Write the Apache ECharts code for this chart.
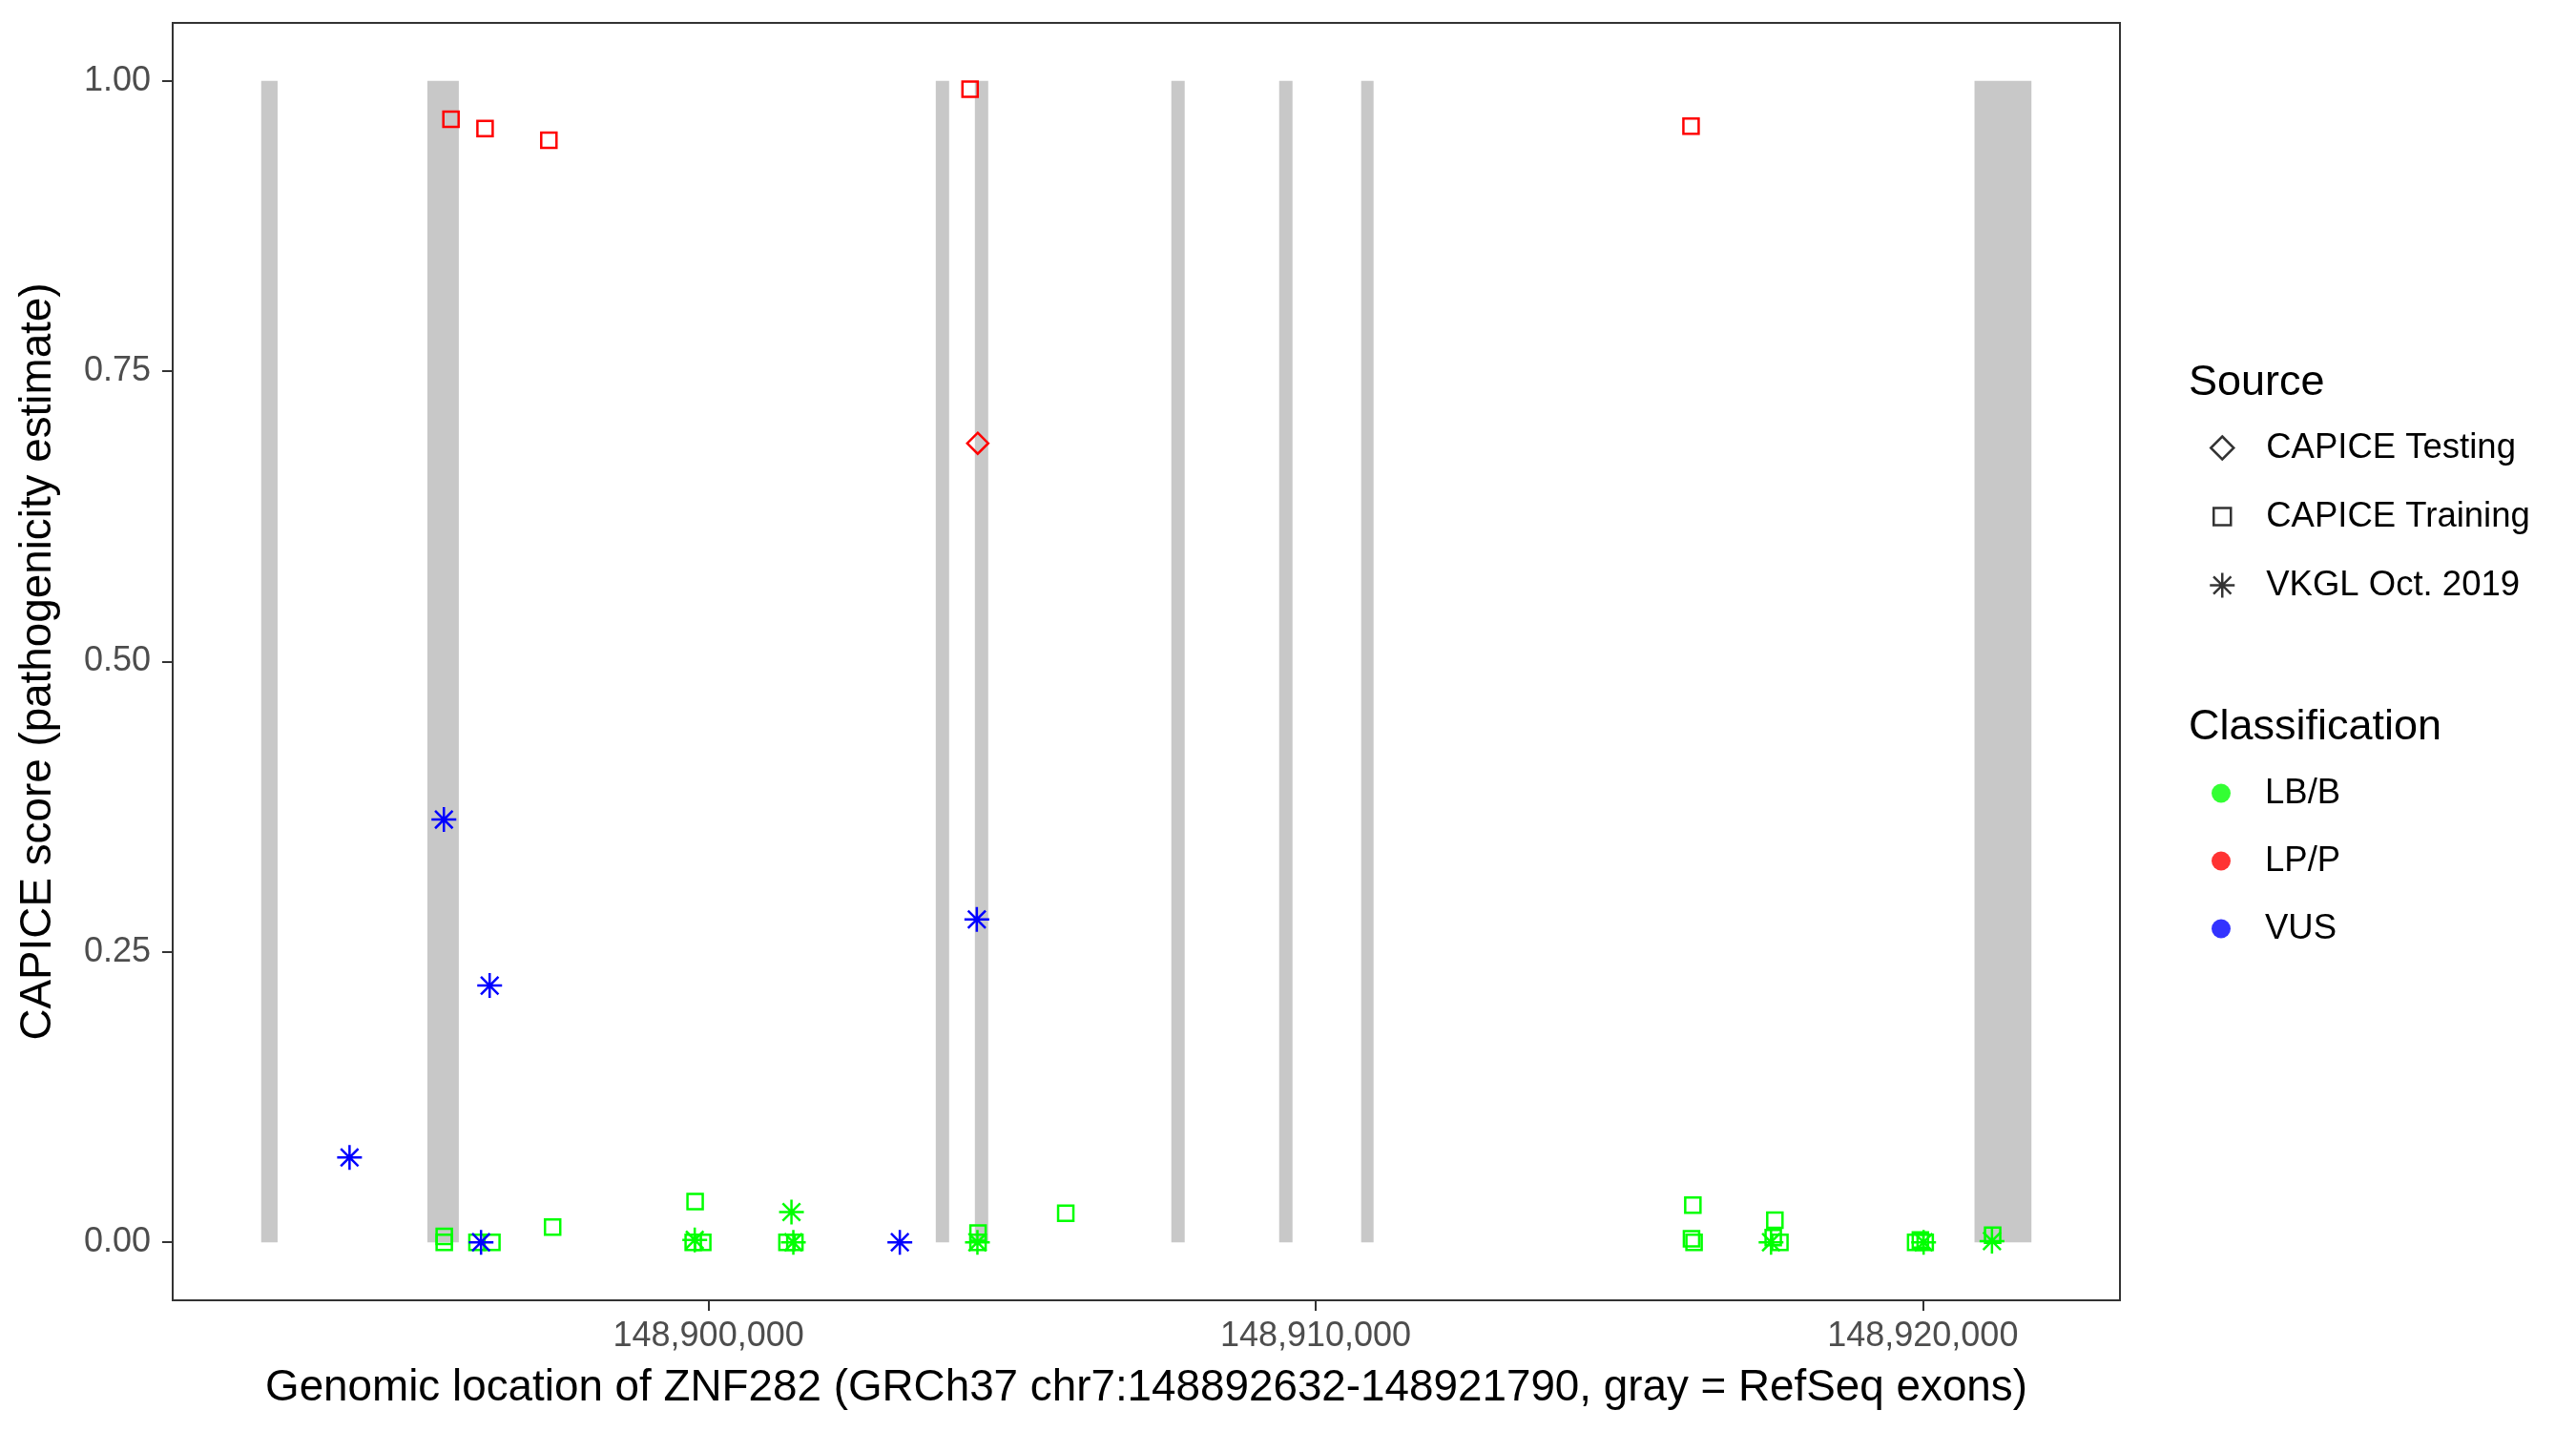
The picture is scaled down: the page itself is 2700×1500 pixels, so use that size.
<!DOCTYPE html>
<html>
<head>
<meta charset="utf-8">
<script src="https://cdn.jsdelivr.net/npm/echarts@6/dist/echarts.min.js"></script>
<style>
  html, body { margin: 0; padding: 0; background: #ffffff; }
  #chart { width: 2700px; height: 1500px; }
</style>
</head>
<body>
<div id="chart"></div>
<script>
// ---- Data ----
const xTicks = [148900000, 148910000, 148920000];
const yTicks = [0, 0.25, 0.5, 0.75, 1];
const xRange = [148891174, 148923248];
const yRange = [-0.05, 1.05];

// RefSeq exons (gray)
const exonStart = [148892632, 148895369, 148903743, 148904387, 148907623, 148909399, 148910750, 148920852];
const exonEnd   = [148892902, 148895887, 148903963, 148904607, 148907843, 148909619, 148910954, 148921790];

// LB/B - CAPICE Training (green squares)
const lbbTrainingPos   = [148895647, 148895647, 148896186, 148896432, 148897432, 148899779, 148899748, 148899905, 148901292, 148901422, 148904439, 148904439, 148905884, 148916213, 148916191, 148916233, 148917564, 148917537, 148917647, 148919883, 148919961, 148920040, 148921151];
const lbbTrainingScore = [0.005, 0.000, 0.000, 0.000, 0.013, 0.035, 0.000, 0.000, 0.000, 0.000, 0.008, 0.000, 0.025, 0.032, 0.003, 0.000, 0.019, 0.004, 0.000, 0.000, 0.002, 0.000, 0.006];

// LB/B - VKGL Oct. 2019 (green asterisks)
const lbbVkglPos   = [148899773, 148901366, 148901397, 148904429, 148917501, 148920014, 148921140];
const lbbVkglScore = [0.002, 0.026, 0.000, 0.000, 0.000, 0.000, 0.001];

// VUS - VKGL Oct. 2019 (blue asterisks)
const vusVkglPos   = [148894087, 148895641, 148896395, 148896253, 148903151, 148904419];
const vusVkglScore = [0.073, 0.364, 0.221, 0.000, 0.000, 0.278];

// LP/P - CAPICE Training (red squares)
const lppTrainingPos   = [148895758, 148896319, 148897370, 148904308, 148916183];
const lppTrainingScore = [0.967, 0.959, 0.949, 0.993, 0.961];

// LP/P - CAPICE Testing (red diamond)
const lppTestingPos   = [148904434];
const lppTestingScore = [0.688];

const sourceNames = ['CAPICE Testing', 'CAPICE Training', 'VKGL Oct. 2019'];
const classNames = ['LB/B', 'LP/P', 'VUS'];
const classColors = ['#00FF00', '#FF0000', '#0000FF'];

// ---- Build ----
const FONT = 'Liberation Sans, Arial, Helvetica, sans-serif';
const ASTERISK = 'path://M0,-13L0,13M-13,0L13,0M-9.2,-9.2L9.2,9.2M-9.2,9.2L9.2,-9.2';
const SQ_ICON = 'path://M-13,-13M13,13M-9,-9L9,-9L9,9L-9,9Z';
const DIA_ICON = 'path://M-13,-13M13,13M0,-12L12,0L0,12L-12,0Z';

function zip(a, b) { return a.map((v, i) => [v, b[i]]); }

function pointSeries(name, pos, score, symbol, size, color) {
  return {
    type: 'scatter', name: name,
    data: zip(pos, score),
    symbol: symbol, symbolSize: size,
    itemStyle: { color: 'transparent', borderColor: color, borderWidth: 2.5, opacity: 1 },
    emphasis: { disabled: true },
    z: 5
  };
}

const exonData = zip(exonStart, exonEnd);

const chart = echarts.init(document.getElementById('chart'), null, { renderer: 'canvas' });

const option = {
  animation: false,
  backgroundColor: '#ffffff',
  textStyle: { fontFamily: FONT },
  grid: {
    left: 181, top: 24, width: 2041, height: 1339,
    show: true, borderColor: '#333333', borderWidth: 2, backgroundColor: 'transparent'
  },
  title: [
    { text: 'Source', left: 2294, top: 379, padding: 0,
      textStyle: { fontFamily: FONT, fontSize: 45, fontWeight: 'normal', color: '#000000' } },
    { text: 'Classification', left: 2294, top: 740, padding: 0,
      textStyle: { fontFamily: FONT, fontSize: 45, fontWeight: 'normal', color: '#000000' } }
  ],
  legend: [
    {
      orient: 'vertical', left: 2315, top: 451, padding: 0,
      itemWidth: 26, itemHeight: 26, itemGap: 35, selectedMode: false,
      textStyle: { fontFamily: FONT, fontSize: 36.5, color: '#000000', padding: [0, 0, 0, 28] },
      data: [
        { name: sourceNames[0], icon: DIA_ICON, itemStyle: { color: 'transparent', borderColor: '#000000', borderWidth: 2.5 } },
        { name: sourceNames[1], icon: SQ_ICON, itemStyle: { color: 'transparent', borderColor: '#000000', borderWidth: 2.5 } },
        { name: sourceNames[2], icon: ASTERISK, itemStyle: { color: 'transparent', borderColor: '#000000', borderWidth: 2.5 } }
      ]
    },
    {
      orient: 'vertical', left: 2318, top: 813, padding: 0,
      itemWidth: 20, itemHeight: 20, itemGap: 34, selectedMode: false,
      textStyle: { fontFamily: FONT, fontSize: 36.5, color: '#000000', padding: [0, 0, 0, 31] },
      data: classNames.map((n, i) => ({ name: n, icon: 'circle', itemStyle: { color: classColors[i], borderWidth: 0 } }))
    }
  ],
  xAxis: {
    type: 'value', min: xRange[0], max: xRange[1],
    name: 'Genomic location of ZNF282 (GRCh37 chr7:148892632-148921790, gray = RefSeq exons)',
    nameLocation: 'middle', nameGap: 69,
    nameTextStyle: { fontFamily: FONT, fontSize: 45.8, color: '#000000' },
    axisLine: { show: true, onZero: false, lineStyle: { color: '#333333', width: 2 } },
    axisTick: { show: true, length: 11, lineStyle: { color: '#333333', width: 2 }, customValues: xTicks },
    axisLabel: {
      show: true, margin: 20, fontFamily: FONT, fontSize: 36, color: '#4D4D4D',
      customValues: xTicks,
      formatter: v => Number(v).toLocaleString('en-US')
    },
    splitLine: { show: false }
  },
  yAxis: {
    type: 'value', min: yRange[0], max: yRange[1],
    name: 'CAPICE score (pathogenicity estimate)',
    nameLocation: 'middle', nameGap: 118,
    nameTextStyle: { fontFamily: FONT, fontSize: 45.8, color: '#000000' },
    axisLine: { show: true, onZero: false, lineStyle: { color: '#333333', width: 2 } },
    axisTick: { show: true, length: 11, lineStyle: { color: '#333333', width: 2 }, customValues: yTicks },
    axisLabel: {
      show: true, margin: 23, fontFamily: FONT, fontSize: 36, color: '#4D4D4D',
      customValues: yTicks,
      formatter: v => Number(v).toFixed(2)
    },
    splitLine: { show: false }
  },
  series: [
    {
      type: 'custom', name: 'exons', z: 1, silent: true,
      data: exonData,
      encode: { x: [0, 1] },
      renderItem: function (params, api) {
        const p0 = api.coord([api.value(0), 1]);
        const p1 = api.coord([api.value(1), 0]);
        return {
          type: 'rect',
          shape: { x: p0[0], y: p0[1], width: p1[0] - p0[0], height: p1[1] - p0[1] },
          style: { fill: '#C8C8C8' }
        };
      }
    },
    pointSeries('LB/B Training', lbbTrainingPos, lbbTrainingScore, 'rect', 16, classColors[0]),
    pointSeries('LB/B VKGL', lbbVkglPos, lbbVkglScore, ASTERISK, 26, classColors[0]),
    pointSeries('VUS VKGL', vusVkglPos, vusVkglScore, ASTERISK, 26, classColors[2]),
    pointSeries('LP/P Training', lppTrainingPos, lppTrainingScore, 'rect', 16, classColors[1]),
    pointSeries('LP/P Testing', lppTestingPos, lppTestingScore, 'diamond', 22, classColors[1]),
    // legend-only series
    { type: 'scatter', name: sourceNames[0], data: [], symbol: 'diamond', itemStyle: { color: 'transparent', borderColor: '#000', borderWidth: 2.5 } },
    { type: 'scatter', name: sourceNames[1], data: [], symbol: 'rect', itemStyle: { color: 'transparent', borderColor: '#000', borderWidth: 2.5 } },
    { type: 'scatter', name: sourceNames[2], data: [], symbol: ASTERISK, itemStyle: { color: 'transparent', borderColor: '#000', borderWidth: 2.5 } },
    { type: 'scatter', name: classNames[0], data: [], symbol: 'circle', itemStyle: { color: classColors[0] } },
    { type: 'scatter', name: classNames[1], data: [], symbol: 'circle', itemStyle: { color: classColors[1] } },
    { type: 'scatter', name: classNames[2], data: [], symbol: 'circle', itemStyle: { color: classColors[2] } }
  ]
};

chart.setOption(option);
</script>
</body>
</html>
